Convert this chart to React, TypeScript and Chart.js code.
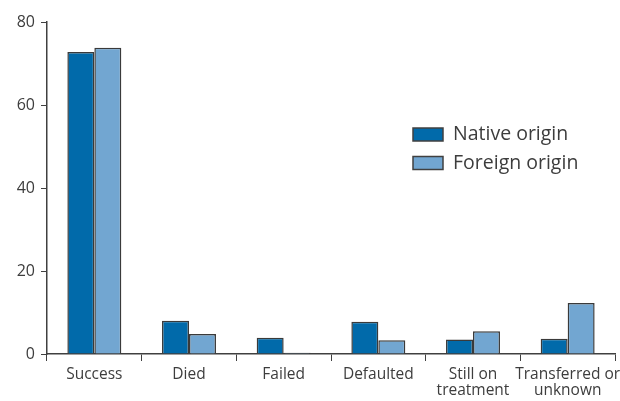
import React, { useEffect, useRef } from "react";
import { Chart, registerables } from "chart.js";

Chart.register(...registerables);

const categories: (string | string[])[] = [
  "Success",
  "Died",
  "Failed",
  "Defaulted",
  ["Still on", "treatment"],
  ["Transferred or", "unknown"],
];
const nativeOrigin = [72.8, 8.0, 3.9, 7.8, 3.5, 3.7];
const foreignOrigin = [73.8, 4.8, 0.3, 3.3, 5.5, 12.3];
const yTicks = [0, 20, 40, 60, 80];

const FONT = "'Open Sans', 'DejaVu Sans', sans-serif";
const TEXT = "#3d3d3d";

const legendPlugin = {
  id: "innerLegend",
  afterDraw(chart: any) {
    const ctx = chart.ctx;
    ctx.save();
    chart.data.datasets.forEach((ds: any, i: number) => {
      const x = 413;
      const y = 128 + i * 28.5;
      ctx.fillStyle = ds.backgroundColor;
      ctx.fillRect(x, y, 30, 13);
      ctx.strokeStyle = "#404040";
      ctx.lineWidth = 1.5;
      ctx.strokeRect(x, y, 30, 13);
      ctx.fillStyle = TEXT;
      ctx.font = `19.5px ${FONT}`;
      ctx.textBaseline = "middle";
      ctx.textAlign = "left";
      ctx.fillText(ds.label, x + 40, y + 6.5);
    });
    ctx.restore();
  },
};

export default function App() {
  const ref = useRef<HTMLCanvasElement>(null);
  useEffect(() => {
    document.body.style.margin = "0";
    const chart = new Chart(ref.current!, {
      type: "bar",
      data: {
        labels: categories,
        datasets: [
          {
            label: "Native origin",
            data: nativeOrigin,
            backgroundColor: "#016aaa",
            borderColor: "#3a3a3a",
            borderWidth: 1.5,
            categoryPercentage: 0.57,
            barPercentage: 1,
          },
          {
            label: "Foreign origin",
            data: foreignOrigin,
            backgroundColor: "#72a6d1",
            borderColor: "#3a3a3a",
            borderWidth: 1.5,
            categoryPercentage: 0.57,
            barPercentage: 1,
          },
        ],
      },
      options: {
        animation: false,
        responsive: false,
        layout: { padding: { top: 22, right: 5, left: 0, bottom: 0 } },
        plugins: { legend: { display: false }, tooltip: { enabled: false } },
        scales: {
          x: {
            grid: {
              offset: true,
              drawOnChartArea: false,
              drawTicks: true,
              tickLength: 7,
              color: "#404040",
              lineWidth: 1,
            },
            border: { color: "#404040", width: 1.5 },
            ticks: {
              color: TEXT,
              font: { family: FONT, size: 15.5, lineHeight: 1.05 },
              padding: 5,
              maxRotation: 0,
              autoSkip: false,
            },
            afterFit(scale: any) {
              scale.height = 47;
              scale.paddingRight = 0;
              scale.paddingLeft = 0;
            },
          },
          y: {
            min: 0,
            max: 80,
            afterBuildTicks(scale: any) {
              scale.ticks = yTicks.map((v) => ({ value: v }));
            },
            grid: {
              drawOnChartArea: false,
              drawTicks: true,
              tickLength: 6,
              color: "#404040",
            },
            border: { color: "#404040", width: 1.5 },
            ticks: {
              color: TEXT,
              font: { family: FONT, size: 16 },
              padding: 6,
            },
            afterFit(scale: any) {
              scale.width = 47;
            },
          },
        },
      },
      plugins: [legendPlugin],
    });
    return () => chart.destroy();
  }, []);
  return <canvas ref={ref} width={620} height={401} />;
}
